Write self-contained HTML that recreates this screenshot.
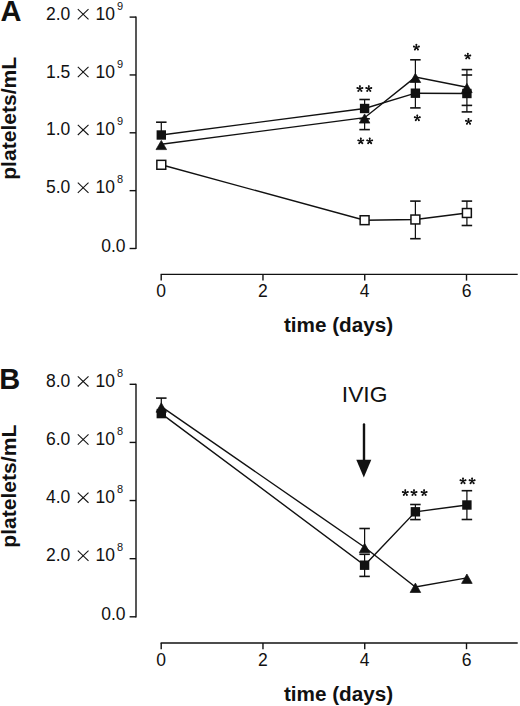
<!DOCTYPE html>
<html><head><meta charset="utf-8"><style>
html,body{margin:0;padding:0;background:#fff;width:520px;height:706px;overflow:hidden}
svg{display:block}
text{fill:#111;font-family:"Liberation Sans",sans-serif}
</style></head><body>
<svg width="520" height="706" viewBox="0 0 520 706" font-family="Liberation Sans, sans-serif">
<rect width="520" height="706" fill="#fff"/>
<line x1="136.00" y1="16.50" x2="136.00" y2="249.10" stroke="#111" stroke-width="1.4" />
<line x1="129.60" y1="17.10" x2="136.00" y2="17.10" stroke="#111" stroke-width="1.4" />
<line x1="129.60" y1="74.95" x2="136.00" y2="74.95" stroke="#111" stroke-width="1.4" />
<line x1="129.60" y1="132.80" x2="136.00" y2="132.80" stroke="#111" stroke-width="1.4" />
<line x1="129.60" y1="190.65" x2="136.00" y2="190.65" stroke="#111" stroke-width="1.4" />
<line x1="129.60" y1="248.50" x2="136.00" y2="248.50" stroke="#111" stroke-width="1.4" />
<line x1="160.60" y1="274.40" x2="517.70" y2="274.40" stroke="#111" stroke-width="1.4" />
<line x1="161.20" y1="274.40" x2="161.20" y2="280.60" stroke="#111" stroke-width="1.4" />
<text x="161.20" y="297.20" font-size="17.5" font-weight="normal" text-anchor="middle" >0</text>
<line x1="262.97" y1="274.40" x2="262.97" y2="280.60" stroke="#111" stroke-width="1.4" />
<text x="262.97" y="297.20" font-size="17.5" font-weight="normal" text-anchor="middle" >2</text>
<line x1="364.74" y1="274.40" x2="364.74" y2="280.60" stroke="#111" stroke-width="1.4" />
<text x="364.74" y="297.20" font-size="17.5" font-weight="normal" text-anchor="middle" >4</text>
<line x1="466.51" y1="274.40" x2="466.51" y2="280.60" stroke="#111" stroke-width="1.4" />
<text x="466.51" y="297.20" font-size="17.5" font-weight="normal" text-anchor="middle" >6</text>
<text x="46.02" y="19.70" font-size="17.5" font-weight="normal" text-anchor="start" >2.0</text>
<line x1="77.80" y1="9.10" x2="88.50" y2="19.30" stroke="#111" stroke-width="1.05" stroke-linecap="butt"/>
<line x1="77.80" y1="19.30" x2="88.50" y2="9.10" stroke="#111" stroke-width="1.05" stroke-linecap="butt"/>
<text x="95.57" y="19.70" font-size="17.5" font-weight="normal" text-anchor="start" >10</text>
<text x="116.88" y="9.75" font-size="11" font-weight="normal" text-anchor="start" >9</text>
<text x="46.02" y="77.55" font-size="17.5" font-weight="normal" text-anchor="start" >1.5</text>
<line x1="77.80" y1="66.95" x2="88.50" y2="77.15" stroke="#111" stroke-width="1.05" stroke-linecap="butt"/>
<line x1="77.80" y1="77.15" x2="88.50" y2="66.95" stroke="#111" stroke-width="1.05" stroke-linecap="butt"/>
<text x="95.57" y="77.55" font-size="17.5" font-weight="normal" text-anchor="start" >10</text>
<text x="116.88" y="67.60" font-size="11" font-weight="normal" text-anchor="start" >9</text>
<text x="46.02" y="135.40" font-size="17.5" font-weight="normal" text-anchor="start" >1.0</text>
<line x1="77.80" y1="124.80" x2="88.50" y2="135.00" stroke="#111" stroke-width="1.05" stroke-linecap="butt"/>
<line x1="77.80" y1="135.00" x2="88.50" y2="124.80" stroke="#111" stroke-width="1.05" stroke-linecap="butt"/>
<text x="95.57" y="135.40" font-size="17.5" font-weight="normal" text-anchor="start" >10</text>
<text x="116.88" y="125.45" font-size="11" font-weight="normal" text-anchor="start" >9</text>
<text x="46.02" y="193.25" font-size="17.5" font-weight="normal" text-anchor="start" >5.0</text>
<line x1="77.80" y1="182.65" x2="88.50" y2="192.85" stroke="#111" stroke-width="1.05" stroke-linecap="butt"/>
<line x1="77.80" y1="192.85" x2="88.50" y2="182.65" stroke="#111" stroke-width="1.05" stroke-linecap="butt"/>
<text x="95.57" y="193.25" font-size="17.5" font-weight="normal" text-anchor="start" >10</text>
<text x="116.88" y="183.30" font-size="11" font-weight="normal" text-anchor="start" >8</text>
<text x="125.60" y="251.80" font-size="17.5" font-weight="normal" text-anchor="end" >0.0</text>
<text transform="translate(16.3,118.30) rotate(-90)" x="0" y="0" font-size="21.1" font-weight="bold" text-anchor="middle">platelets/mL</text>
<text x="338.50" y="332.20" font-size="20.7" font-weight="bold" text-anchor="middle" >time (days)</text>
<text x="0.47" y="20.80" font-size="29" font-weight="bold" text-anchor="start" >A</text>
<line x1="161.30" y1="122.20" x2="161.30" y2="135.00" stroke="#111" stroke-width="1.25" />
<line x1="156.05" y1="122.20" x2="166.55" y2="122.20" stroke="#111" stroke-width="1.6" />
<line x1="364.60" y1="99.50" x2="364.60" y2="108.50" stroke="#111" stroke-width="1.25" />
<line x1="359.35" y1="99.50" x2="369.85" y2="99.50" stroke="#111" stroke-width="1.6" />
<line x1="359.35" y1="118.80" x2="369.85" y2="118.80" stroke="#111" stroke-width="1.6" />
<line x1="364.60" y1="118.50" x2="364.60" y2="129.60" stroke="#111" stroke-width="1.25" />
<line x1="359.35" y1="129.60" x2="369.85" y2="129.60" stroke="#111" stroke-width="1.6" />
<line x1="415.40" y1="59.80" x2="415.40" y2="107.90" stroke="#111" stroke-width="1.25" />
<line x1="410.15" y1="59.80" x2="420.65" y2="59.80" stroke="#111" stroke-width="1.6" />
<line x1="410.15" y1="107.90" x2="420.65" y2="107.90" stroke="#111" stroke-width="1.6" />
<line x1="466.90" y1="69.60" x2="466.90" y2="111.90" stroke="#111" stroke-width="1.25" />
<line x1="461.65" y1="69.60" x2="472.15" y2="69.60" stroke="#111" stroke-width="1.6" />
<line x1="461.65" y1="75.00" x2="472.15" y2="75.00" stroke="#111" stroke-width="1.6" />
<line x1="461.65" y1="105.40" x2="472.15" y2="105.40" stroke="#111" stroke-width="1.6" />
<line x1="461.65" y1="111.90" x2="472.15" y2="111.90" stroke="#111" stroke-width="1.6" />
<line x1="415.40" y1="201.10" x2="415.40" y2="238.70" stroke="#111" stroke-width="1.25" />
<line x1="410.15" y1="201.10" x2="420.65" y2="201.10" stroke="#111" stroke-width="1.6" />
<line x1="410.15" y1="238.70" x2="420.65" y2="238.70" stroke="#111" stroke-width="1.6" />
<line x1="466.90" y1="201.10" x2="466.90" y2="225.50" stroke="#111" stroke-width="1.25" />
<line x1="461.65" y1="201.10" x2="472.15" y2="201.10" stroke="#111" stroke-width="1.6" />
<line x1="461.65" y1="225.50" x2="472.15" y2="225.50" stroke="#111" stroke-width="1.6" />
<polyline points="161.30,135.00 364.60,108.50 415.40,93.20 466.90,93.50" fill="none" stroke="#111" stroke-width="1.4" stroke-linejoin="miter"/>
<polyline points="161.30,144.20 364.60,117.70 415.40,77.10 466.90,87.20" fill="none" stroke="#111" stroke-width="1.4" stroke-linejoin="miter"/>
<polyline points="161.30,164.80 364.60,220.20 415.40,219.50 466.90,213.00" fill="none" stroke="#111" stroke-width="1.4" stroke-linejoin="miter"/>
<rect x="156.60" y="130.30" width="9.4" height="9.4" fill="#111"/>
<rect x="359.90" y="103.80" width="9.4" height="9.4" fill="#111"/>
<rect x="410.70" y="88.50" width="9.4" height="9.4" fill="#111"/>
<rect x="462.20" y="88.80" width="9.4" height="9.4" fill="#111"/>
<polygon points="161.30,140.40 166.60,149.60 156.00,149.60" fill="#111" stroke="#111" stroke-width="0.7" stroke-linejoin="round"/>
<polygon points="364.60,113.90 369.90,123.10 359.30,123.10" fill="#111" stroke="#111" stroke-width="0.7" stroke-linejoin="round"/>
<polygon points="415.40,73.30 420.70,82.50 410.10,82.50" fill="#111" stroke="#111" stroke-width="0.7" stroke-linejoin="round"/>
<polygon points="466.90,83.40 472.20,92.60 461.60,92.60" fill="#111" stroke="#111" stroke-width="0.7" stroke-linejoin="round"/>
<rect x="156.85" y="160.35" width="8.90" height="8.90" fill="#fff" stroke="#111" stroke-width="1.5"/>
<rect x="360.15" y="215.75" width="8.90" height="8.90" fill="#fff" stroke="#111" stroke-width="1.5"/>
<rect x="410.95" y="215.05" width="8.90" height="8.90" fill="#fff" stroke="#111" stroke-width="1.5"/>
<rect x="462.45" y="208.55" width="8.90" height="8.90" fill="#fff" stroke="#111" stroke-width="1.5"/>
<path d="M359.90,88.75L359.90,86.10M359.90,88.75L362.42,87.93M359.90,88.75L361.46,90.89M359.90,88.75L358.34,90.89M359.90,88.75L357.38,87.93" stroke="#111" stroke-width="1.35" stroke-linecap="round" fill="none"/><circle cx="359.90" cy="86.10" r="0.95" fill="#111"/><circle cx="362.42" cy="87.93" r="0.95" fill="#111"/><circle cx="361.46" cy="90.89" r="0.95" fill="#111"/><circle cx="358.34" cy="90.89" r="0.95" fill="#111"/><circle cx="357.38" cy="87.93" r="0.95" fill="#111"/>
<path d="M368.80,88.75L368.80,86.10M368.80,88.75L371.32,87.93M368.80,88.75L370.36,90.89M368.80,88.75L367.24,90.89M368.80,88.75L366.28,87.93" stroke="#111" stroke-width="1.35" stroke-linecap="round" fill="none"/><circle cx="368.80" cy="86.10" r="0.95" fill="#111"/><circle cx="371.32" cy="87.93" r="0.95" fill="#111"/><circle cx="370.36" cy="90.89" r="0.95" fill="#111"/><circle cx="367.24" cy="90.89" r="0.95" fill="#111"/><circle cx="366.28" cy="87.93" r="0.95" fill="#111"/>
<path d="M360.80,141.15L360.80,138.50M360.80,141.15L363.32,140.33M360.80,141.15L362.36,143.29M360.80,141.15L359.24,143.29M360.80,141.15L358.28,140.33" stroke="#111" stroke-width="1.35" stroke-linecap="round" fill="none"/><circle cx="360.80" cy="138.50" r="0.95" fill="#111"/><circle cx="363.32" cy="140.33" r="0.95" fill="#111"/><circle cx="362.36" cy="143.29" r="0.95" fill="#111"/><circle cx="359.24" cy="143.29" r="0.95" fill="#111"/><circle cx="358.28" cy="140.33" r="0.95" fill="#111"/>
<path d="M369.70,141.15L369.70,138.50M369.70,141.15L372.22,140.33M369.70,141.15L371.26,143.29M369.70,141.15L368.14,143.29M369.70,141.15L367.18,140.33" stroke="#111" stroke-width="1.35" stroke-linecap="round" fill="none"/><circle cx="369.70" cy="138.50" r="0.95" fill="#111"/><circle cx="372.22" cy="140.33" r="0.95" fill="#111"/><circle cx="371.26" cy="143.29" r="0.95" fill="#111"/><circle cx="368.14" cy="143.29" r="0.95" fill="#111"/><circle cx="367.18" cy="140.33" r="0.95" fill="#111"/>
<path d="M416.40,47.35L416.40,44.70M416.40,47.35L418.92,46.53M416.40,47.35L417.96,49.49M416.40,47.35L414.84,49.49M416.40,47.35L413.88,46.53" stroke="#111" stroke-width="1.35" stroke-linecap="round" fill="none"/><circle cx="416.40" cy="44.70" r="0.95" fill="#111"/><circle cx="418.92" cy="46.53" r="0.95" fill="#111"/><circle cx="417.96" cy="49.49" r="0.95" fill="#111"/><circle cx="414.84" cy="49.49" r="0.95" fill="#111"/><circle cx="413.88" cy="46.53" r="0.95" fill="#111"/>
<path d="M417.30,118.05L417.30,115.40M417.30,118.05L419.82,117.23M417.30,118.05L418.86,120.19M417.30,118.05L415.74,120.19M417.30,118.05L414.78,117.23" stroke="#111" stroke-width="1.35" stroke-linecap="round" fill="none"/><circle cx="417.30" cy="115.40" r="0.95" fill="#111"/><circle cx="419.82" cy="117.23" r="0.95" fill="#111"/><circle cx="418.86" cy="120.19" r="0.95" fill="#111"/><circle cx="415.74" cy="120.19" r="0.95" fill="#111"/><circle cx="414.78" cy="117.23" r="0.95" fill="#111"/>
<path d="M467.80,56.25L467.80,53.60M467.80,56.25L470.32,55.43M467.80,56.25L469.36,58.39M467.80,56.25L466.24,58.39M467.80,56.25L465.28,55.43" stroke="#111" stroke-width="1.35" stroke-linecap="round" fill="none"/><circle cx="467.80" cy="53.60" r="0.95" fill="#111"/><circle cx="470.32" cy="55.43" r="0.95" fill="#111"/><circle cx="469.36" cy="58.39" r="0.95" fill="#111"/><circle cx="466.24" cy="58.39" r="0.95" fill="#111"/><circle cx="465.28" cy="55.43" r="0.95" fill="#111"/>
<path d="M468.50,121.55L468.50,118.90M468.50,121.55L471.02,120.73M468.50,121.55L470.06,123.69M468.50,121.55L466.94,123.69M468.50,121.55L465.98,120.73" stroke="#111" stroke-width="1.35" stroke-linecap="round" fill="none"/><circle cx="468.50" cy="118.90" r="0.95" fill="#111"/><circle cx="471.02" cy="120.73" r="0.95" fill="#111"/><circle cx="470.06" cy="123.69" r="0.95" fill="#111"/><circle cx="466.94" cy="123.69" r="0.95" fill="#111"/><circle cx="465.98" cy="120.73" r="0.95" fill="#111"/>
<line x1="136.00" y1="383.70" x2="136.00" y2="617.40" stroke="#111" stroke-width="1.4" />
<line x1="129.60" y1="384.30" x2="136.00" y2="384.30" stroke="#111" stroke-width="1.4" />
<line x1="129.60" y1="442.43" x2="136.00" y2="442.43" stroke="#111" stroke-width="1.4" />
<line x1="129.60" y1="500.55" x2="136.00" y2="500.55" stroke="#111" stroke-width="1.4" />
<line x1="129.60" y1="558.67" x2="136.00" y2="558.67" stroke="#111" stroke-width="1.4" />
<line x1="129.60" y1="616.80" x2="136.00" y2="616.80" stroke="#111" stroke-width="1.4" />
<line x1="160.60" y1="643.00" x2="517.70" y2="643.00" stroke="#111" stroke-width="1.4" />
<line x1="161.20" y1="643.00" x2="161.20" y2="649.20" stroke="#111" stroke-width="1.4" />
<text x="161.20" y="665.80" font-size="17.5" font-weight="normal" text-anchor="middle" >0</text>
<line x1="262.97" y1="643.00" x2="262.97" y2="649.20" stroke="#111" stroke-width="1.4" />
<text x="262.97" y="665.80" font-size="17.5" font-weight="normal" text-anchor="middle" >2</text>
<line x1="364.74" y1="643.00" x2="364.74" y2="649.20" stroke="#111" stroke-width="1.4" />
<text x="364.74" y="665.80" font-size="17.5" font-weight="normal" text-anchor="middle" >4</text>
<line x1="466.51" y1="643.00" x2="466.51" y2="649.20" stroke="#111" stroke-width="1.4" />
<text x="466.51" y="665.80" font-size="17.5" font-weight="normal" text-anchor="middle" >6</text>
<text x="46.02" y="386.90" font-size="17.5" font-weight="normal" text-anchor="start" >8.0</text>
<line x1="77.80" y1="376.30" x2="88.50" y2="386.50" stroke="#111" stroke-width="1.05" stroke-linecap="butt"/>
<line x1="77.80" y1="386.50" x2="88.50" y2="376.30" stroke="#111" stroke-width="1.05" stroke-linecap="butt"/>
<text x="95.57" y="386.90" font-size="17.5" font-weight="normal" text-anchor="start" >10</text>
<text x="116.88" y="376.95" font-size="11" font-weight="normal" text-anchor="start" >8</text>
<text x="46.02" y="445.03" font-size="17.5" font-weight="normal" text-anchor="start" >6.0</text>
<line x1="77.80" y1="434.43" x2="88.50" y2="444.63" stroke="#111" stroke-width="1.05" stroke-linecap="butt"/>
<line x1="77.80" y1="444.63" x2="88.50" y2="434.43" stroke="#111" stroke-width="1.05" stroke-linecap="butt"/>
<text x="95.57" y="445.03" font-size="17.5" font-weight="normal" text-anchor="start" >10</text>
<text x="116.88" y="435.08" font-size="11" font-weight="normal" text-anchor="start" >8</text>
<text x="46.02" y="503.15" font-size="17.5" font-weight="normal" text-anchor="start" >4.0</text>
<line x1="77.80" y1="492.55" x2="88.50" y2="502.75" stroke="#111" stroke-width="1.05" stroke-linecap="butt"/>
<line x1="77.80" y1="502.75" x2="88.50" y2="492.55" stroke="#111" stroke-width="1.05" stroke-linecap="butt"/>
<text x="95.57" y="503.15" font-size="17.5" font-weight="normal" text-anchor="start" >10</text>
<text x="116.88" y="493.20" font-size="11" font-weight="normal" text-anchor="start" >8</text>
<text x="46.02" y="561.27" font-size="17.5" font-weight="normal" text-anchor="start" >2.0</text>
<line x1="77.80" y1="550.67" x2="88.50" y2="560.88" stroke="#111" stroke-width="1.05" stroke-linecap="butt"/>
<line x1="77.80" y1="560.88" x2="88.50" y2="550.67" stroke="#111" stroke-width="1.05" stroke-linecap="butt"/>
<text x="95.57" y="561.27" font-size="17.5" font-weight="normal" text-anchor="start" >10</text>
<text x="116.88" y="551.32" font-size="11" font-weight="normal" text-anchor="start" >8</text>
<text x="125.60" y="620.10" font-size="17.5" font-weight="normal" text-anchor="end" >0.0</text>
<text transform="translate(16.3,486.20) rotate(-90)" x="0" y="0" font-size="21.1" font-weight="bold" text-anchor="middle">platelets/mL</text>
<text x="338.50" y="700.80" font-size="20.7" font-weight="bold" text-anchor="middle" >time (days)</text>
<text x="-0.74" y="388.70" font-size="29" font-weight="bold" text-anchor="start" >B</text>
<line x1="161.30" y1="398.10" x2="161.30" y2="410.00" stroke="#111" stroke-width="1.25" />
<line x1="156.05" y1="398.10" x2="166.55" y2="398.10" stroke="#111" stroke-width="1.6" />
<line x1="364.60" y1="528.50" x2="364.60" y2="548.00" stroke="#111" stroke-width="1.25" />
<line x1="359.35" y1="528.50" x2="369.85" y2="528.50" stroke="#111" stroke-width="1.6" />
<line x1="364.60" y1="554.30" x2="364.60" y2="576.40" stroke="#111" stroke-width="1.25" />
<line x1="359.35" y1="554.30" x2="369.85" y2="554.30" stroke="#111" stroke-width="1.6" />
<line x1="359.35" y1="576.40" x2="369.85" y2="576.40" stroke="#111" stroke-width="1.6" />
<line x1="415.40" y1="504.50" x2="415.40" y2="519.60" stroke="#111" stroke-width="1.25" />
<line x1="410.15" y1="504.50" x2="420.65" y2="504.50" stroke="#111" stroke-width="1.6" />
<line x1="410.15" y1="519.60" x2="420.65" y2="519.60" stroke="#111" stroke-width="1.6" />
<line x1="466.90" y1="490.70" x2="466.90" y2="519.50" stroke="#111" stroke-width="1.25" />
<line x1="461.65" y1="490.70" x2="472.15" y2="490.70" stroke="#111" stroke-width="1.6" />
<line x1="461.65" y1="519.50" x2="472.15" y2="519.50" stroke="#111" stroke-width="1.6" />
<polyline points="161.30,413.60 364.60,565.20 415.40,511.80 466.90,505.00" fill="none" stroke="#111" stroke-width="1.4" stroke-linejoin="miter"/>
<polyline points="161.30,406.70 364.60,547.20 415.40,587.00 466.90,577.90" fill="none" stroke="#111" stroke-width="1.4" stroke-linejoin="miter"/>
<rect x="156.60" y="408.90" width="9.4" height="9.4" fill="#111"/>
<rect x="359.90" y="560.50" width="9.4" height="9.4" fill="#111"/>
<rect x="410.70" y="507.10" width="9.4" height="9.4" fill="#111"/>
<rect x="462.20" y="500.30" width="9.4" height="9.4" fill="#111"/>
<polygon points="161.30,402.80 166.60,412.20 156.00,412.20" fill="#111" stroke="#111" stroke-width="0.7" stroke-linejoin="round"/>
<polygon points="364.60,543.30 369.90,552.70 359.30,552.70" fill="#111" stroke="#111" stroke-width="0.7" stroke-linejoin="round"/>
<polygon points="415.40,583.10 420.70,592.50 410.10,592.50" fill="#111" stroke="#111" stroke-width="0.7" stroke-linejoin="round"/>
<polygon points="466.90,574.00 472.20,583.40 461.60,583.40" fill="#111" stroke="#111" stroke-width="0.7" stroke-linejoin="round"/>
<path d="M405.30,492.75L405.30,490.10M405.30,492.75L407.82,491.93M405.30,492.75L406.86,494.89M405.30,492.75L403.74,494.89M405.30,492.75L402.78,491.93" stroke="#111" stroke-width="1.35" stroke-linecap="round" fill="none"/><circle cx="405.30" cy="490.10" r="0.95" fill="#111"/><circle cx="407.82" cy="491.93" r="0.95" fill="#111"/><circle cx="406.86" cy="494.89" r="0.95" fill="#111"/><circle cx="403.74" cy="494.89" r="0.95" fill="#111"/><circle cx="402.78" cy="491.93" r="0.95" fill="#111"/>
<path d="M414.00,492.75L414.00,490.10M414.00,492.75L416.52,491.93M414.00,492.75L415.56,494.89M414.00,492.75L412.44,494.89M414.00,492.75L411.48,491.93" stroke="#111" stroke-width="1.35" stroke-linecap="round" fill="none"/><circle cx="414.00" cy="490.10" r="0.95" fill="#111"/><circle cx="416.52" cy="491.93" r="0.95" fill="#111"/><circle cx="415.56" cy="494.89" r="0.95" fill="#111"/><circle cx="412.44" cy="494.89" r="0.95" fill="#111"/><circle cx="411.48" cy="491.93" r="0.95" fill="#111"/>
<path d="M424.10,492.75L424.10,490.10M424.10,492.75L426.62,491.93M424.10,492.75L425.66,494.89M424.10,492.75L422.54,494.89M424.10,492.75L421.58,491.93" stroke="#111" stroke-width="1.35" stroke-linecap="round" fill="none"/><circle cx="424.10" cy="490.10" r="0.95" fill="#111"/><circle cx="426.62" cy="491.93" r="0.95" fill="#111"/><circle cx="425.66" cy="494.89" r="0.95" fill="#111"/><circle cx="422.54" cy="494.89" r="0.95" fill="#111"/><circle cx="421.58" cy="491.93" r="0.95" fill="#111"/>
<path d="M463.00,481.05L463.00,478.40M463.00,481.05L465.52,480.23M463.00,481.05L464.56,483.19M463.00,481.05L461.44,483.19M463.00,481.05L460.48,480.23" stroke="#111" stroke-width="1.35" stroke-linecap="round" fill="none"/><circle cx="463.00" cy="478.40" r="0.95" fill="#111"/><circle cx="465.52" cy="480.23" r="0.95" fill="#111"/><circle cx="464.56" cy="483.19" r="0.95" fill="#111"/><circle cx="461.44" cy="483.19" r="0.95" fill="#111"/><circle cx="460.48" cy="480.23" r="0.95" fill="#111"/>
<path d="M472.10,481.05L472.10,478.40M472.10,481.05L474.62,480.23M472.10,481.05L473.66,483.19M472.10,481.05L470.54,483.19M472.10,481.05L469.58,480.23" stroke="#111" stroke-width="1.35" stroke-linecap="round" fill="none"/><circle cx="472.10" cy="478.40" r="0.95" fill="#111"/><circle cx="474.62" cy="480.23" r="0.95" fill="#111"/><circle cx="473.66" cy="483.19" r="0.95" fill="#111"/><circle cx="470.54" cy="483.19" r="0.95" fill="#111"/><circle cx="469.58" cy="480.23" r="0.95" fill="#111"/>
<line x1="364.00" y1="424.50" x2="364.00" y2="462.00" stroke="#111" stroke-width="2.4" stroke-linecap="round"/>
<polygon points="356.3,459.8 371.3,459.8 363.8,477.5" fill="#111"/>
<text x="341.80" y="401.70" font-size="22.8" font-weight="normal" text-anchor="start" >IVIG</text>
</svg>
</body></html>
